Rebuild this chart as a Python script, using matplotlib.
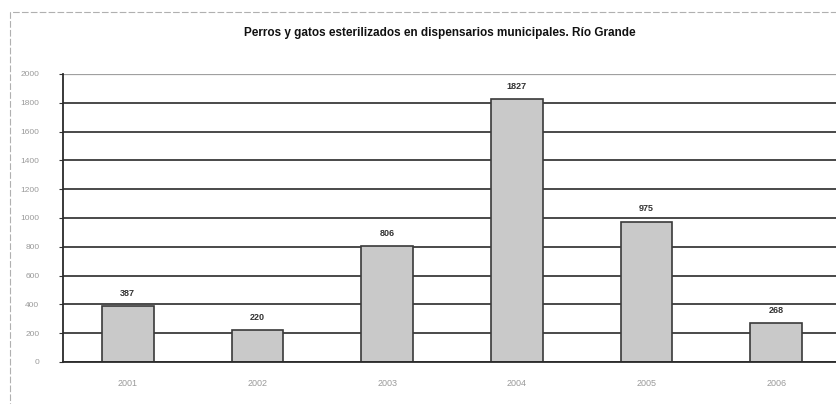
import matplotlib
matplotlib.use("Agg")
import matplotlib.pyplot as plt
from matplotlib.patches import Rectangle

years = ["2001", "2002", "2003", "2004", "2005", "2006"]
esterilizados = [387, 220, 806, 1827, 975, 268]
y_ticks = [0, 200, 400, 600, 800, 1000, 1200, 1400, 1600, 1800, 2000]

plt.rcParams["font.family"] = ["Liberation Sans", "DejaVu Sans"]

fig = plt.figure(figsize=(8.36, 4.04), dpi=100)
fig.patch.set_facecolor("white")

# faint outer frame of the chart area
fig.patches.append(Rectangle((10 / 836, -0.05), 1.2, (404 - 12) / 404 + 0.05,
                             transform=fig.transFigure, fill=False,
                             edgecolor="#b0b0b0", linewidth=0.8,
                             linestyle=(0, (6, 2))))

ax = fig.add_axes([63 / 836, 42 / 404, 778 / 836, 288 / 404])
x = list(range(len(years)))

ax.set_axisbelow(True)
ax.yaxis.grid(True, color="#2a2a2a", linewidth=1.2)
ax.bar(x, esterilizados, width=0.4, color="#c9c9c9", edgecolor="#3a3a3a",
       linewidth=1.2, zorder=2)

for xi, v in zip(x, esterilizados):
    ax.annotate(str(v), (xi, v), xytext=(0, 6), textcoords="offset points",
                ha="center", va="bottom", fontsize=6.5, fontweight="bold",
                color="#333333")

ax.set_xlim(-0.5, len(years) - 0.5)
ax.set_ylim(0, 2000)
ax.set_yticks(y_ticks)
ax.set_yticklabels([str(t) for t in y_ticks], fontsize=6, color="#9a9a9a")
ax.set_xticks(x)
ax.set_xticklabels(years, fontsize=6.5, color="#9a9a9a")
ax.tick_params(axis="x", length=0, pad=12)
ax.tick_params(axis="y", length=3, color="#333333", pad=14)

# the topmost gridline is drawn lighter
gridlines = ax.yaxis.get_gridlines()
gridlines[-1].set_color("#a0a0a0")
gridlines[-1].set_linewidth(0.9)

for side in ["top", "right"]:
    ax.spines[side].set_visible(False)
ax.spines["left"].set_color("#2a2a2a")
ax.spines["left"].set_linewidth(1.3)
ax.spines["bottom"].set_color("#2a2a2a")
ax.spines["bottom"].set_linewidth(1.3)

fig.text(440 / 836, 1 - 33 / 404,
         "Perros y gatos esterilizados en dispensarios municipales. Río Grande",
         ha="center", va="center", fontsize=8.5, fontweight="bold",
         color="#111111")

fig.savefig("out.png", dpi=100)
